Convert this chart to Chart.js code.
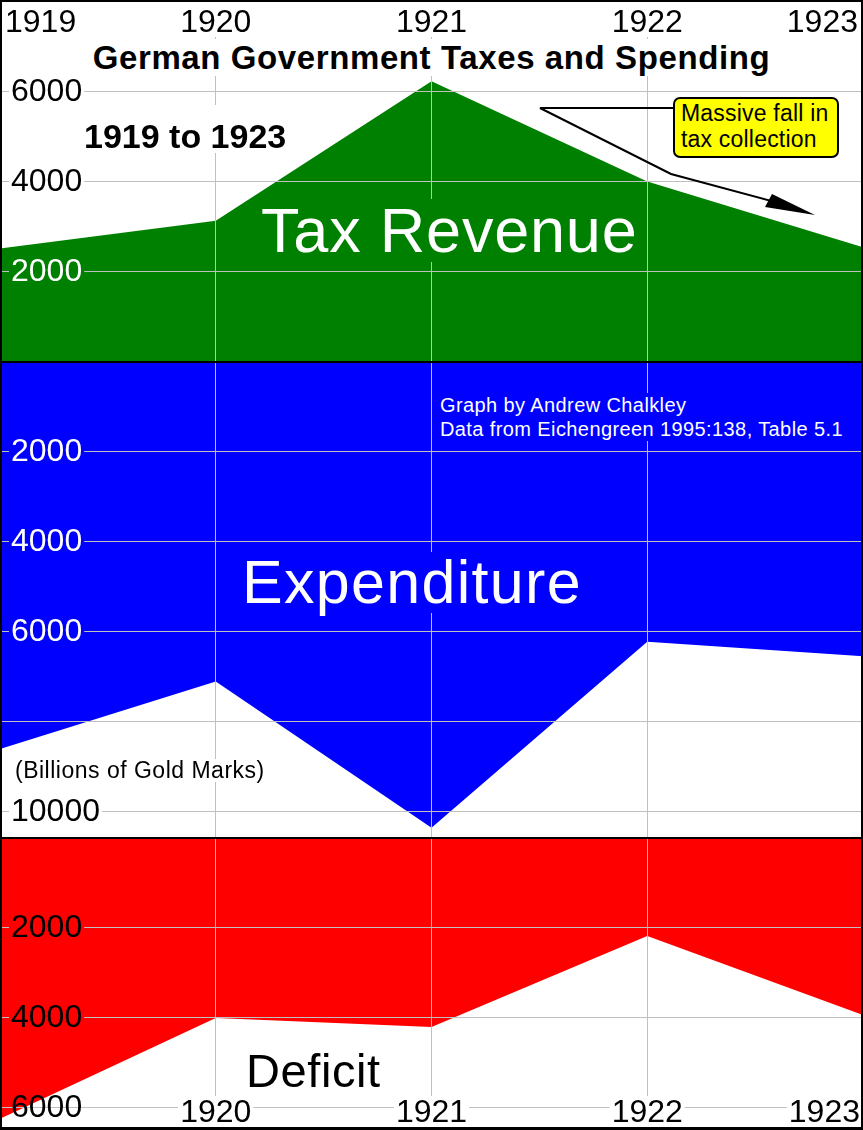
<!DOCTYPE html>
<html lang="en">
<head>
  <meta charset="UTF-8" />
  <title>German Government Taxes and Spending</title>
  <script src="https://cdn.jsdelivr.net/npm/chart.js"></script>
  <style>
    body {
      margin: 0;
      background: #fff;
      font-family: 'Liberation Sans', Arial, sans-serif;
    }
    #board {
      position: relative;
      width: 863px;
      height: 1130px;
      overflow: hidden;
      background: #fff;
    }
    .panel { position: absolute; left: 0; width: 863px; }
    .txt { position: absolute; white-space: nowrap; line-height: 1; }
    .sep { position: absolute; left: 0; width: 863px; height: 2px; background: #000; }
    #frame {
      position: absolute; left: 0; top: 0; width: 863px; height: 1130px;
      box-sizing: border-box; border: 2px solid #000; border-bottom-width: 3px;
      pointer-events: none;
    }
    #callout {
      position: absolute; left: 673px; top: 97px; width: 166px; height: 61px;
      box-sizing: border-box; background: #ffff00; border: 2px solid #000; border-radius: 7px;
      font-size: 23px; line-height: 26px; padding: 1px 0 0 6px; color: #000;
      letter-spacing: 0.2px;
    }
  </style>
</head>
<body>
  <div id="board">
    <div class="panel" style="top:0;height:362px"><canvas id="taxChart"></canvas></div>
    <div class="panel" style="top:362px;height:476px"><canvas id="spendChart"></canvas></div>
    <div class="panel" style="top:838px;height:292px"><canvas id="deficitChart"></canvas></div>

    <svg style="position:absolute;left:0;top:0" width="863" height="362">
      <polyline points="673,108 540,108 671,174 775,202" fill="none" stroke="#000" stroke-width="2"/>
      <polygon points="772,194 765,207 815,215" fill="#000"/>
    </svg>

    <div class="txt" style="left:0;width:863px;top:36px;text-align:center">
      <span style="font-size:33px;font-weight:bold;line-height:44px;letter-spacing:0.6px;background:#fff;padding:0 4px">German Government Taxes and Spending</span>
    </div>
    <div class="txt" style="left:84px;top:105px;padding-top:14px;font-size:34px;font-weight:bold;background:#fff">1919 to 1923</div>
    <div class="txt" style="left:261px;top:199px;font-size:63px;letter-spacing:0.8px;color:#fff;background:#008000">Tax Revenue</div>
    <div id="callout">Massive fall in<br>tax collection</div>

    <div class="txt" style="left:440px;top:393px;font-size:20px;line-height:24px;letter-spacing:0.4px;color:#fff;background:#0000ff">Graph by Andrew Chalkley<br>Data from Eichengreen 1995:138, Table 5.1</div>
    <div class="txt" style="left:242px;top:552px;font-size:61px;letter-spacing:1.3px;color:#fff;background:#0000ff">Expenditure</div>
    <div class="txt" style="left:15px;top:759px;font-size:23px;letter-spacing:0.5px;color:#000;background:#fff">(Billions of Gold Marks)</div>

    <div class="txt" style="left:246px;top:1047px;font-size:47px;letter-spacing:0.6px;color:#000;background:#fff">Deficit</div>

    <div class="sep" style="top:361px"></div>
    <div class="sep" style="top:837px"></div>
    <div id="frame"></div>
  </div>

  <script>
    const FONT = "'Liberation Sans', Arial, sans-serif";

    // Eichengreen 1995, table 5.1
    const years = [1919, 1920, 1921, 1922, 1923];
    const taxRevenue = [2520, 3140, 6240, 4010, 2550];
    const expenditure = [8600, 7100, 10350, 6215, 6540];
    const deficit = [6240, 4000, 4200, 2180, 3935];

    const taxTicks = [2000, 4000, 6000];
    const taxTickLabels = ['2000', '4000', '6000'];
    const spendTicks = [2000, 4000, 6000, 8000, 10000];
    const spendTickLabels = ['2000', '4000', '6000', '', '10000'];
    const deficitTicks = [2000, 4000, 6000];
    const deficitTickLabels = ['2000', '4000', '6000'];

    const topYearLabels = [1919, 1920, 1921, 1922, 1923];
    const bottomYearLabels = [1920, 1921, 1922, 1923];

    // years written over the plot, first/last pulled inside
    const yearLabels = {
      id: 'yearLabels',
      afterDraw(chart, args, opts) {
        if (!opts.years) return;
        const ctx = chart.ctx;
        const xs = chart.scales.x;
        ctx.save();
        ctx.font = '32px ' + FONT;
        ctx.textBaseline = 'alphabetic';
        ctx.textAlign = 'left';
        opts.years.forEach(yr => {
          const txt = String(yr);
          const px = xs.getPixelForValue(yr);
          const w = ctx.measureText(txt).width;
          let left = px - w / 2;
          if (yr === xs.min) left = px + opts.inset;
          if (yr === xs.max) left = px - opts.inset - w;
          ctx.fillStyle = '#fff';
          ctx.fillRect(left - 2, opts.baseline - opts.boxUp, w + 4, opts.boxUp + 5);
          ctx.fillStyle = '#000';
          ctx.fillText(txt, left, opts.baseline);
        });
        ctx.restore();
      }
    };

    function drawPanel(canvasId, values, cfg) {
      return new Chart(document.getElementById(canvasId), {
        type: 'line',
        data: {
          datasets: [{
            data: years.map((yr, i) => ({ x: yr, y: values[i] })),
            fill: 'origin',
            backgroundColor: cfg.fill,
            borderWidth: 0,
            pointRadius: 0,
            tension: 0
          }]
        },
        plugins: [yearLabels],
        options: {
          responsive: true,
          maintainAspectRatio: false,
          animation: false,
          events: [],
          layout: { padding: 0 },
          plugins: {
            legend: { display: false },
            tooltip: { enabled: false },
            yearLabels: cfg.years || {}
          },
          scales: {
            x: {
              type: 'linear',
              min: years[0],
              max: years[years.length - 1],
              afterBuildTicks: s => { s.ticks = years.map(v => ({ value: v })); },
              afterFit: s => { s.height = 0; },
              border: { display: false },
              grid: { color: '#c0c0c0', drawTicks: false, z: 1 },
              ticks: { display: false }
            },
            y: {
              min: 0,
              max: cfg.max,
              reverse: cfg.reverse,
              afterBuildTicks: s => { s.ticks = cfg.ticks.map(v => ({ value: v })); },
              afterFit: s => { s.width = 0; s.paddingTop = 0; s.paddingBottom = 0; },
              border: { display: false },
              grid: { color: '#c0c0c0', drawTicks: false, z: 1 },
              ticks: {
                mirror: true,
                padding: 11,
                z: 2,
                font: { family: FONT, size: 32 },
                color: c => cfg.tickColor(c.tick.value),
                showLabelBackdrop: true,
                backdropColor: c => cfg.tickBack(c.tick.value),
                backdropPadding: { left: 2, right: 2, top: -7, bottom: -7 },
                callback: (v, i) => cfg.labels[i]
              }
            }
          }
        }
      });
    }

    drawPanel('taxChart', taxRevenue, {
      fill: '#008000',
      reverse: false,
      max: 8044,
      ticks: taxTicks,
      labels: taxTickLabels,
      tickColor: v => v === 2000 ? '#fff' : '#000',
      tickBack: v => v === 2000 ? '#008000' : '#fff',
      years: { years: topYearLabels, baseline: 32, inset: 5, boxUp: 32 }
    });

    drawPanel('spendChart', expenditure, {
      fill: '#0000ff',
      reverse: true,
      max: 10578,
      ticks: spendTicks,
      labels: spendTickLabels,
      tickColor: v => v === 10000 ? '#000' : '#fff',
      tickBack: v => v === 10000 ? '#fff' : (v === 8000 ? 'rgba(0,0,0,0)' : '#0000ff')
    });

    drawPanel('deficitChart', deficit, {
      fill: '#ff0000',
      reverse: true,
      max: 6489,
      ticks: deficitTicks,
      labels: deficitTickLabels,
      tickColor: () => '#000',
      tickBack: v => v === 6000 ? 'rgba(0,0,0,0)' : '#ff0000',
      years: { years: bottomYearLabels, baseline: 284, inset: 3, boxUp: 26 }
    });
  </script>
</body>
</html>
